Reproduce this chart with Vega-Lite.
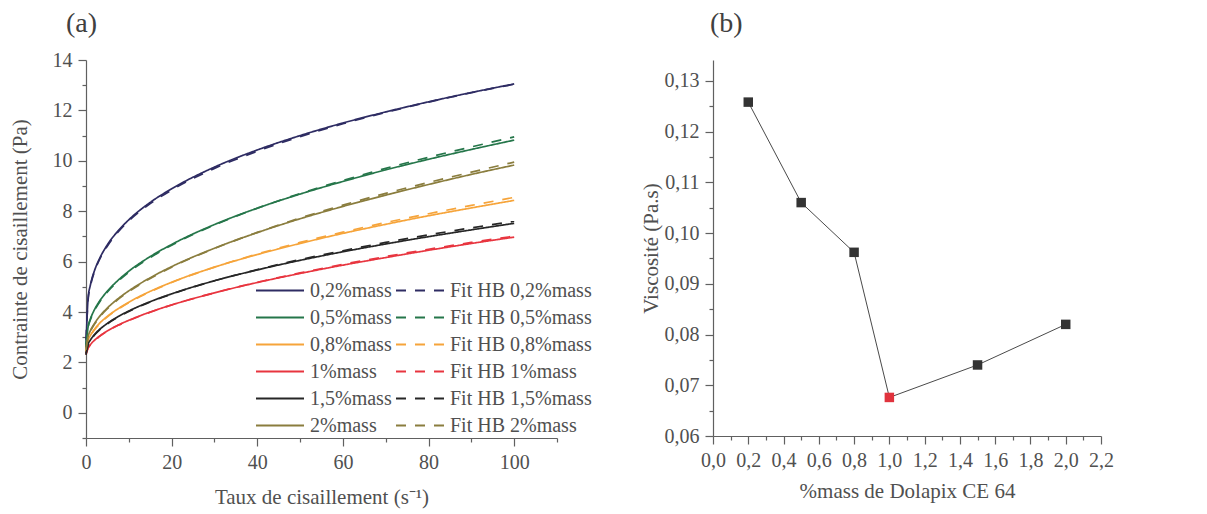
{
  "$schema": "https://vega.github.io/schema/vega-lite/v6.json",
  "background": "white",
  "padding": {"left": 9, "top": 10, "right": 5, "bottom": 5},
  "spacing": 48,
  "config": {
    "font": "Liberation Serif",
    "view": {"stroke": null},
    "axis": {
      "labelFont": "Liberation Serif", "labelFontSize": 20, "labelColor": "#505050",
      "titleFont": "Liberation Serif", "titleFontSize": 21, "titleFontWeight": "normal", "titleColor": "#505050",
      "domainColor": "#606060", "tickColor": "#606060", "domainWidth": 1.2, "tickWidth": 1.2,
      "grid": false, "labelOverlap": false, "labelFlush": false, "labelBound": false, "labelPadding": 6
    },
    "title": {"font": "Liberation Serif", "fontSize": 28, "fontWeight": "normal", "color": "#404040", "anchor": "start", "frame": "group"}
  },
  "datasets": {
    "curves": [
      {"s":"0,2%mass","x":0,"y":2.6},{"s":"0,2%mass","x":0.5,"y":4.57},{"s":"0,2%mass","x":1,"y":5.05},{"s":"0,2%mass","x":2,"y":5.65},{"s":"0,2%mass","x":3,"y":6.06},{"s":"0,2%mass","x":5,"y":6.67},{"s":"0,2%mass","x":7.5,"y":7.22},{"s":"0,2%mass","x":10,"y":7.66},{"s":"0,2%mass","x":15,"y":8.35},{"s":"0,2%mass","x":20,"y":8.89},{"s":"0,2%mass","x":30,"y":9.75},{"s":"0,2%mass","x":40,"y":10.43},{"s":"0,2%mass","x":50,"y":11.0},{"s":"0,2%mass","x":60,"y":11.5},{"s":"0,2%mass","x":70,"y":11.94},{"s":"0,2%mass","x":80,"y":12.34},{"s":"0,2%mass","x":90,"y":12.71},{"s":"0,2%mass","x":100,"y":13.05},
      {"s":"Fit HB 0,2%mass","x":0,"y":2.9},{"s":"Fit HB 0,2%mass","x":0.5,"y":4.5},{"s":"Fit HB 0,2%mass","x":1,"y":5.0},{"s":"Fit HB 0,2%mass","x":2,"y":5.62},{"s":"Fit HB 0,2%mass","x":3,"y":6.03},{"s":"Fit HB 0,2%mass","x":5,"y":6.62},{"s":"Fit HB 0,2%mass","x":7.5,"y":7.18},{"s":"Fit HB 0,2%mass","x":10,"y":7.62},{"s":"Fit HB 0,2%mass","x":15,"y":8.3},{"s":"Fit HB 0,2%mass","x":20,"y":8.84},{"s":"Fit HB 0,2%mass","x":30,"y":9.7},{"s":"Fit HB 0,2%mass","x":40,"y":10.38},{"s":"Fit HB 0,2%mass","x":50,"y":10.96},{"s":"Fit HB 0,2%mass","x":60,"y":11.47},{"s":"Fit HB 0,2%mass","x":70,"y":11.92},{"s":"Fit HB 0,2%mass","x":80,"y":12.33},{"s":"Fit HB 0,2%mass","x":90,"y":12.7},{"s":"Fit HB 0,2%mass","x":100,"y":13.04},
      {"s":"0,5%mass","x":0,"y":2.6},{"s":"0,5%mass","x":0.5,"y":3.42},{"s":"0,5%mass","x":1,"y":3.71},{"s":"0,5%mass","x":2,"y":4.1},{"s":"0,5%mass","x":3,"y":4.39},{"s":"0,5%mass","x":5,"y":4.83},{"s":"0,5%mass","x":7.5,"y":5.26},{"s":"0,5%mass","x":10,"y":5.62},{"s":"0,5%mass","x":15,"y":6.2},{"s":"0,5%mass","x":20,"y":6.68},{"s":"0,5%mass","x":30,"y":7.47},{"s":"0,5%mass","x":40,"y":8.12},{"s":"0,5%mass","x":50,"y":8.68},{"s":"0,5%mass","x":60,"y":9.18},{"s":"0,5%mass","x":70,"y":9.64},{"s":"0,5%mass","x":80,"y":10.06},{"s":"0,5%mass","x":90,"y":10.45},{"s":"0,5%mass","x":100,"y":10.82},
      {"s":"Fit HB 0,5%mass","x":0,"y":2.7},{"s":"Fit HB 0,5%mass","x":0.5,"y":3.4},{"s":"Fit HB 0,5%mass","x":1,"y":3.68},{"s":"Fit HB 0,5%mass","x":2,"y":4.06},{"s":"Fit HB 0,5%mass","x":3,"y":4.35},{"s":"Fit HB 0,5%mass","x":5,"y":4.8},{"s":"Fit HB 0,5%mass","x":7.5,"y":5.22},{"s":"Fit HB 0,5%mass","x":10,"y":5.58},{"s":"Fit HB 0,5%mass","x":15,"y":6.16},{"s":"Fit HB 0,5%mass","x":20,"y":6.65},{"s":"Fit HB 0,5%mass","x":30,"y":7.45},{"s":"Fit HB 0,5%mass","x":40,"y":8.12},{"s":"Fit HB 0,5%mass","x":50,"y":8.7},{"s":"Fit HB 0,5%mass","x":60,"y":9.22},{"s":"Fit HB 0,5%mass","x":70,"y":9.7},{"s":"Fit HB 0,5%mass","x":80,"y":10.14},{"s":"Fit HB 0,5%mass","x":90,"y":10.55},{"s":"Fit HB 0,5%mass","x":100,"y":10.95},
      {"s":"0,8%mass","x":0,"y":2.4},{"s":"0,8%mass","x":0.5,"y":2.87},{"s":"0,8%mass","x":1,"y":3.06},{"s":"0,8%mass","x":2,"y":3.32},{"s":"0,8%mass","x":3,"y":3.52},{"s":"0,8%mass","x":5,"y":3.83},{"s":"0,8%mass","x":7.5,"y":4.13},{"s":"0,8%mass","x":10,"y":4.39},{"s":"0,8%mass","x":15,"y":4.82},{"s":"0,8%mass","x":20,"y":5.18},{"s":"0,8%mass","x":30,"y":5.78},{"s":"0,8%mass","x":40,"y":6.28},{"s":"0,8%mass","x":50,"y":6.72},{"s":"0,8%mass","x":60,"y":7.12},{"s":"0,8%mass","x":70,"y":7.48},{"s":"0,8%mass","x":80,"y":7.82},{"s":"0,8%mass","x":90,"y":8.13},{"s":"0,8%mass","x":100,"y":8.43},
      {"s":"Fit HB 0,8%mass","x":0,"y":2.45},{"s":"Fit HB 0,8%mass","x":0.5,"y":2.85},{"s":"Fit HB 0,8%mass","x":1,"y":3.04},{"s":"Fit HB 0,8%mass","x":2,"y":3.3},{"s":"Fit HB 0,8%mass","x":3,"y":3.5},{"s":"Fit HB 0,8%mass","x":5,"y":3.81},{"s":"Fit HB 0,8%mass","x":7.5,"y":4.11},{"s":"Fit HB 0,8%mass","x":10,"y":4.37},{"s":"Fit HB 0,8%mass","x":15,"y":4.8},{"s":"Fit HB 0,8%mass","x":20,"y":5.17},{"s":"Fit HB 0,8%mass","x":30,"y":5.78},{"s":"Fit HB 0,8%mass","x":40,"y":6.3},{"s":"Fit HB 0,8%mass","x":50,"y":6.76},{"s":"Fit HB 0,8%mass","x":60,"y":7.17},{"s":"Fit HB 0,8%mass","x":70,"y":7.55},{"s":"Fit HB 0,8%mass","x":80,"y":7.9},{"s":"Fit HB 0,8%mass","x":90,"y":8.23},{"s":"Fit HB 0,8%mass","x":100,"y":8.55},
      {"s":"1%mass","x":0,"y":2.3},{"s":"1%mass","x":0.5,"y":2.58},{"s":"1%mass","x":1,"y":2.7},{"s":"1%mass","x":2,"y":2.88},{"s":"1%mass","x":3,"y":3.02},{"s":"1%mass","x":5,"y":3.25},{"s":"1%mass","x":7.5,"y":3.48},{"s":"1%mass","x":10,"y":3.67},{"s":"1%mass","x":15,"y":4.0},{"s":"1%mass","x":20,"y":4.28},{"s":"1%mass","x":30,"y":4.76},{"s":"1%mass","x":40,"y":5.17},{"s":"1%mass","x":50,"y":5.53},{"s":"1%mass","x":60,"y":5.86},{"s":"1%mass","x":70,"y":6.16},{"s":"1%mass","x":80,"y":6.45},{"s":"1%mass","x":90,"y":6.72},{"s":"1%mass","x":100,"y":6.97},
      {"s":"Fit HB 1%mass","x":0,"y":2.35},{"s":"Fit HB 1%mass","x":0.5,"y":2.57},{"s":"Fit HB 1%mass","x":1,"y":2.69},{"s":"Fit HB 1%mass","x":2,"y":2.87},{"s":"Fit HB 1%mass","x":3,"y":3.01},{"s":"Fit HB 1%mass","x":5,"y":3.24},{"s":"Fit HB 1%mass","x":7.5,"y":3.47},{"s":"Fit HB 1%mass","x":10,"y":3.66},{"s":"Fit HB 1%mass","x":15,"y":3.99},{"s":"Fit HB 1%mass","x":20,"y":4.28},{"s":"Fit HB 1%mass","x":30,"y":4.76},{"s":"Fit HB 1%mass","x":40,"y":5.18},{"s":"Fit HB 1%mass","x":50,"y":5.55},{"s":"Fit HB 1%mass","x":60,"y":5.89},{"s":"Fit HB 1%mass","x":70,"y":6.2},{"s":"Fit HB 1%mass","x":80,"y":6.49},{"s":"Fit HB 1%mass","x":90,"y":6.76},{"s":"Fit HB 1%mass","x":100,"y":7.01},
      {"s":"1,5%mass","x":0,"y":2.3},{"s":"1,5%mass","x":0.5,"y":2.72},{"s":"1,5%mass","x":1,"y":2.88},{"s":"1,5%mass","x":2,"y":3.11},{"s":"1,5%mass","x":3,"y":3.28},{"s":"1,5%mass","x":5,"y":3.55},{"s":"1,5%mass","x":7.5,"y":3.82},{"s":"1,5%mass","x":10,"y":4.04},{"s":"1,5%mass","x":15,"y":4.41},{"s":"1,5%mass","x":20,"y":4.72},{"s":"1,5%mass","x":30,"y":5.24},{"s":"1,5%mass","x":40,"y":5.67},{"s":"1,5%mass","x":50,"y":6.05},{"s":"1,5%mass","x":60,"y":6.39},{"s":"1,5%mass","x":70,"y":6.7},{"s":"1,5%mass","x":80,"y":6.99},{"s":"1,5%mass","x":90,"y":7.26},{"s":"1,5%mass","x":100,"y":7.52},
      {"s":"Fit HB 1,5%mass","x":0,"y":2.35},{"s":"Fit HB 1,5%mass","x":0.5,"y":2.7},{"s":"Fit HB 1,5%mass","x":1,"y":2.86},{"s":"Fit HB 1,5%mass","x":2,"y":3.09},{"s":"Fit HB 1,5%mass","x":3,"y":3.26},{"s":"Fit HB 1,5%mass","x":5,"y":3.53},{"s":"Fit HB 1,5%mass","x":7.5,"y":3.8},{"s":"Fit HB 1,5%mass","x":10,"y":4.02},{"s":"Fit HB 1,5%mass","x":15,"y":4.4},{"s":"Fit HB 1,5%mass","x":20,"y":4.71},{"s":"Fit HB 1,5%mass","x":30,"y":5.24},{"s":"Fit HB 1,5%mass","x":40,"y":5.68},{"s":"Fit HB 1,5%mass","x":50,"y":6.08},{"s":"Fit HB 1,5%mass","x":60,"y":6.43},{"s":"Fit HB 1,5%mass","x":70,"y":6.76},{"s":"Fit HB 1,5%mass","x":80,"y":7.06},{"s":"Fit HB 1,5%mass","x":90,"y":7.34},{"s":"Fit HB 1,5%mass","x":100,"y":7.6},
      {"s":"2%mass","x":0,"y":2.5},{"s":"2%mass","x":0.5,"y":3.03},{"s":"2%mass","x":1,"y":3.25},{"s":"2%mass","x":2,"y":3.55},{"s":"2%mass","x":3,"y":3.79},{"s":"2%mass","x":5,"y":4.16},{"s":"2%mass","x":7.5,"y":4.53},{"s":"2%mass","x":10,"y":4.84},{"s":"2%mass","x":15,"y":5.36},{"s":"2%mass","x":20,"y":5.8},{"s":"2%mass","x":30,"y":6.53},{"s":"2%mass","x":40,"y":7.15},{"s":"2%mass","x":50,"y":7.7},{"s":"2%mass","x":60,"y":8.19},{"s":"2%mass","x":70,"y":8.64},{"s":"2%mass","x":80,"y":9.06},{"s":"2%mass","x":90,"y":9.46},{"s":"2%mass","x":100,"y":9.83},
      {"s":"Fit HB 2%mass","x":0,"y":2.55},{"s":"Fit HB 2%mass","x":0.5,"y":3.0},{"s":"Fit HB 2%mass","x":1,"y":3.22},{"s":"Fit HB 2%mass","x":2,"y":3.52},{"s":"Fit HB 2%mass","x":3,"y":3.76},{"s":"Fit HB 2%mass","x":5,"y":4.13},{"s":"Fit HB 2%mass","x":7.5,"y":4.5},{"s":"Fit HB 2%mass","x":10,"y":4.81},{"s":"Fit HB 2%mass","x":15,"y":5.33},{"s":"Fit HB 2%mass","x":20,"y":5.78},{"s":"Fit HB 2%mass","x":30,"y":6.52},{"s":"Fit HB 2%mass","x":40,"y":7.16},{"s":"Fit HB 2%mass","x":50,"y":7.73},{"s":"Fit HB 2%mass","x":60,"y":8.24},{"s":"Fit HB 2%mass","x":70,"y":8.71},{"s":"Fit HB 2%mass","x":80,"y":9.14},{"s":"Fit HB 2%mass","x":90,"y":9.55},{"s":"Fit HB 2%mass","x":100,"y":9.95}
    ],
    "visc": [
      {"x": 0.2, "y": 0.1258},
      {"x": 0.5, "y": 0.106},
      {"x": 0.8, "y": 0.0962},
      {"x": 1.0, "y": 0.0676},
      {"x": 1.5, "y": 0.074},
      {"x": 2.0, "y": 0.082}
    ]
  },
  "resolve": {"scale": {"color": "independent", "strokeDash": "independent"}, "legend": {"color": "independent", "strokeDash": "independent"}},
  "hconcat": [
    {
      "title": {"text": "(a)", "dx": -20, "offset": 12},
      "width": 471,
      "height": 378,
      "data": {"name": "curves"},
      "mark": {"type": "line", "strokeWidth": 1.7, "interpolate": "monotone"},
      "encoding": {
        "x": {
          "field": "x", "type": "quantitative",
          "scale": {"domain": [0, 110], "nice": false, "zero": false},
          "axis": {
            "title": "Taux de cisaillement (s⁻¹)",
            "values": [0, 10, 20, 30, 40, 50, 60, 70, 80, 90, 100, 110],
            "labelExpr": "datum.value % 20 === 0 ? datum.label : ''",
            "tickSize": {"condition": {"test": "datum.value % 20 === 0", "value": 8}, "value": 4},
            "titlePadding": 14
          }
        },
        "y": {
          "field": "y", "type": "quantitative",
          "scale": {"domain": [-1, 14], "nice": false, "zero": false},
          "axis": {
            "title": "Contrainte de cisaillement (Pa)",
            "values": [-1, 0, 1, 2, 3, 4, 5, 6, 7, 8, 9, 10, 11, 12, 13, 14],
            "labelExpr": "datum.value % 2 === 0 ? datum.label : ''",
            "tickSize": {"condition": {"test": "datum.value % 2 === 0", "value": 8}, "value": 4},
            "titlePadding": 22
          }
        },
        "color": {
          "field": "s", "type": "nominal",
          "scale": {
            "domain": ["0,2%mass", "0,5%mass", "0,8%mass", "1%mass", "1,5%mass", "2%mass", "Fit HB 0,2%mass", "Fit HB 0,5%mass", "Fit HB 0,8%mass", "Fit HB 1%mass", "Fit HB 1,5%mass", "Fit HB 2%mass"],
            "range": ["#2e2c63", "#25764a", "#f6a43a", "#e8353f", "#262626", "#8a7d3e", "#2e2c63", "#25764a", "#f6a43a", "#e8353f", "#262626", "#8a7d3e"]
          },
          "legend": {
            "title": null, "orient": "none", "legendX": 169, "legendY": 217, "columns": 2,
            "symbolType": "stroke", "symbolSize": 2304, "symbolStrokeWidth": 2,
            "labelFont": "Liberation Serif", "labelFontSize": 20, "labelColor": "#505050",
            "labelOffset": 5, "columnPadding": 3, "rowPadding": 0, "clipHeight": 27, "labelLimit": 300
          }
        },
        "strokeDash": {
          "field": "s", "type": "nominal",
          "scale": {
            "domain": ["0,2%mass", "0,5%mass", "0,8%mass", "1%mass", "1,5%mass", "2%mass", "Fit HB 0,2%mass", "Fit HB 0,5%mass", "Fit HB 0,8%mass", "Fit HB 1%mass", "Fit HB 1,5%mass", "Fit HB 2%mass"],
            "range": [[1, 0], [1, 0], [1, 0], [1, 0], [1, 0], [1, 0], [10, 9], [10, 9], [10, 9], [10, 9], [10, 9], [10, 9]]
          },
          "legend": {
            "title": null, "orient": "none", "legendX": 169, "legendY": 217, "columns": 2,
            "symbolType": "stroke", "symbolSize": 2304, "symbolStrokeWidth": 2,
            "labelFont": "Liberation Serif", "labelFontSize": 20, "labelColor": "#505050",
            "labelOffset": 5, "columnPadding": 3, "rowPadding": 0, "clipHeight": 27, "labelLimit": 300
          }
        }
      }
    },
    {
      "title": {"text": "(b)", "dx": -3, "offset": 22},
      "width": 388,
      "height": 376,
      "data": {"name": "visc"},
      "encoding": {
        "x": {
          "field": "x", "type": "quantitative",
          "scale": {"domain": [0, 2.2], "nice": false, "zero": false},
          "axis": {
            "title": "%mass de Dolapix CE 64",
            "values": [0, 0.1, 0.2, 0.3, 0.4, 0.5, 0.6, 0.7, 0.8, 0.9, 1.0, 1.1, 1.2, 1.3, 1.4, 1.5, 1.6, 1.7, 1.8, 1.9, 2.0, 2.1, 2.2],
            "labelExpr": "round(datum.value * 10) % 2 === 0 ? replace(format(datum.value, '.1f'), '.', ',') : ''",
            "tickSize": {"condition": {"test": "round(datum.value * 10) % 2 === 0", "value": 8}, "value": 4},
            "titlePadding": 10
          }
        },
        "y": {
          "field": "y", "type": "quantitative",
          "scale": {"domain": [0.06, 0.1341], "nice": false, "zero": false},
          "axis": {
            "title": "Viscosité (Pa.s)",
            "values": [0.06, 0.065, 0.07, 0.075, 0.08, 0.085, 0.09, 0.095, 0.1, 0.105, 0.11, 0.115, 0.12, 0.125, 0.13],
            "labelExpr": "round(datum.value * 1000) % 10 === 0 ? replace(format(datum.value, '.2f'), '.', ',') : ''",
            "tickSize": {"condition": {"test": "round(datum.value * 1000) % 10 === 0", "value": 8}, "value": 4},
            "titlePadding": 3
          }
        }
      },
      "layer": [
        {"mark": {"type": "line", "color": "#4a4a4a", "strokeWidth": 1}},
        {
          "mark": {"type": "point", "shape": "square", "filled": true, "size": 90, "opacity": 1},
          "encoding": {
            "color": {"condition": {"test": "datum.x === 1", "value": "#e0333d"}, "value": "#333333"}
          }
        }
      ]
    }
  ]
}
